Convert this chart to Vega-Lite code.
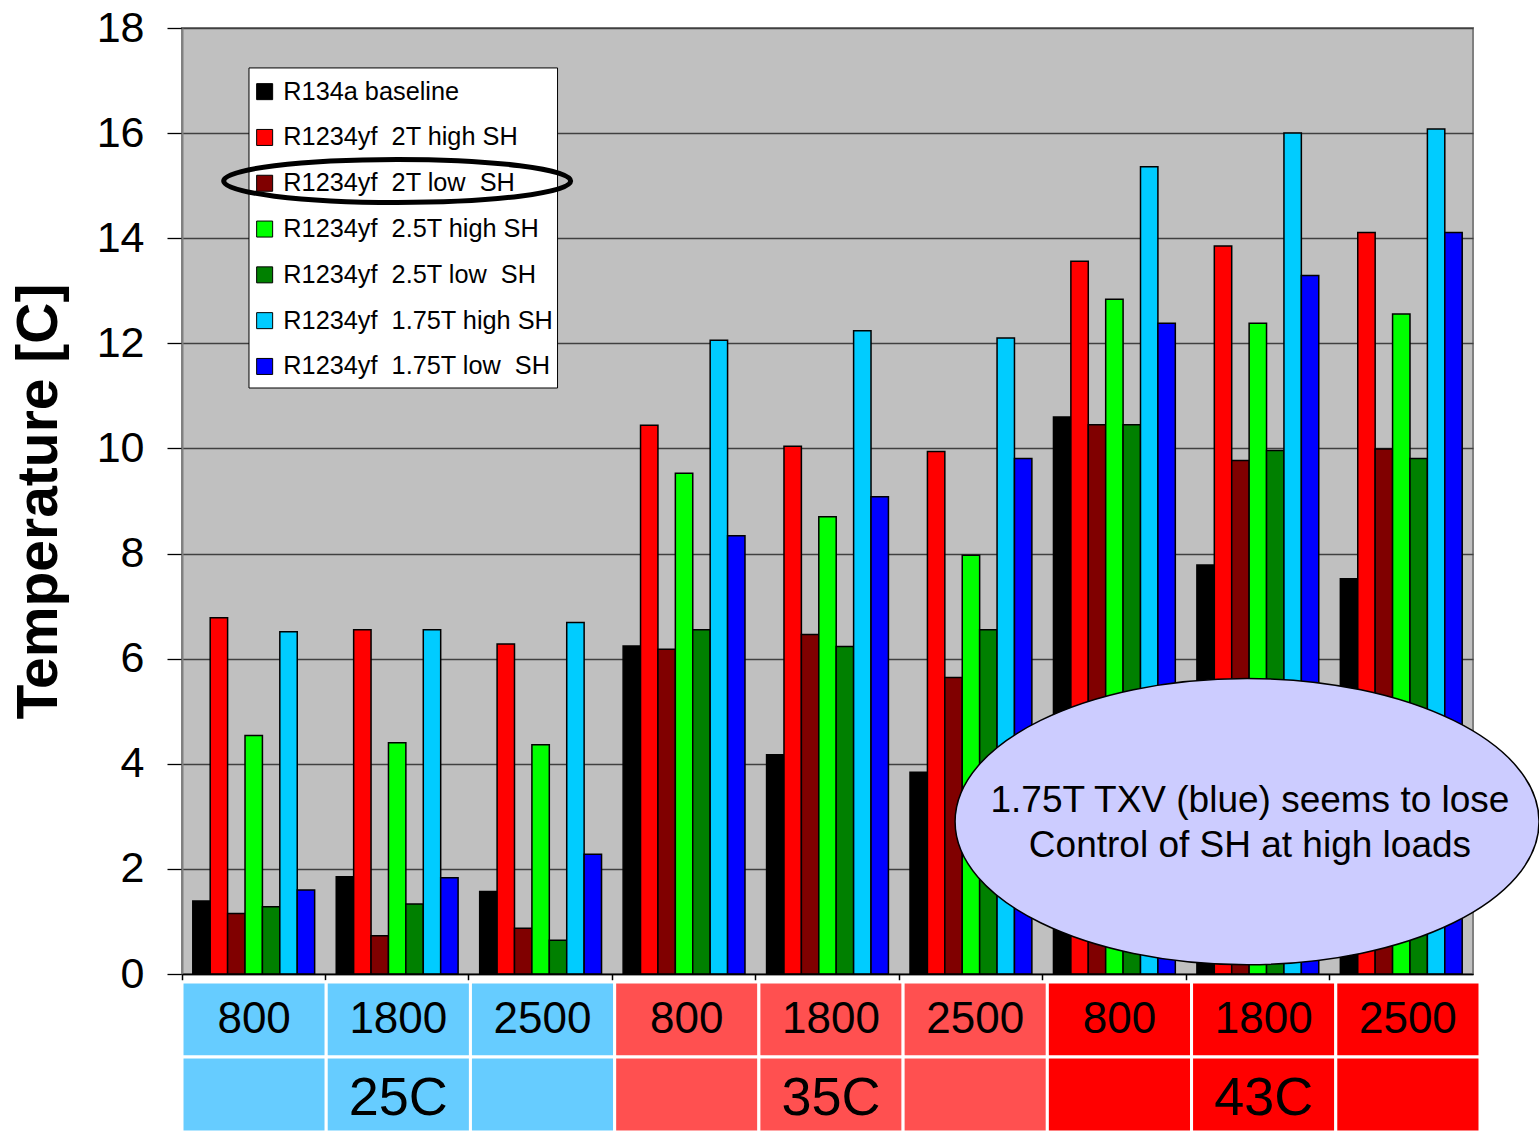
{
  "$schema": "https://vega.github.io/schema/vega-lite/v6.json",
  "padding": {"left": 9, "top": 6, "right": 0, "bottom": 0},
  "background": "white",
  "spacing": 8,
  "bounds": "flush",
  "config": {"font": "Liberation Sans", "legend": {"labelFont": "Liberation Sans"}, "axis": {"labelFont": "Liberation Sans", "titleFont": "Liberation Sans"}},
  "datasets": {
    "bars": [
      {"g": "25C 800", "series": "R134a baseline", "value": 1.39},
      {"g": "25C 800", "series": "R1234yf\u00a0 2T high SH", "value": 6.78},
      {"g": "25C 800", "series": "R1234yf\u00a0 2T low\u00a0 SH", "value": 1.15},
      {"g": "25C 800", "series": "R1234yf\u00a0 2.5T high SH", "value": 4.54},
      {"g": "25C 800", "series": "R1234yf\u00a0 2.5T low\u00a0 SH", "value": 1.28},
      {"g": "25C 800", "series": "R1234yf\u00a0 1.75T high SH", "value": 6.51},
      {"g": "25C 800", "series": "R1234yf\u00a0 1.75T low\u00a0 SH", "value": 1.60},
      {"g": "25C 1800", "series": "R134a baseline", "value": 1.85},
      {"g": "25C 1800", "series": "R1234yf\u00a0 2T high SH", "value": 6.55},
      {"g": "25C 1800", "series": "R1234yf\u00a0 2T low\u00a0 SH", "value": 0.73},
      {"g": "25C 1800", "series": "R1234yf\u00a0 2.5T high SH", "value": 4.40},
      {"g": "25C 1800", "series": "R1234yf\u00a0 2.5T low\u00a0 SH", "value": 1.33},
      {"g": "25C 1800", "series": "R1234yf\u00a0 1.75T high SH", "value": 6.55},
      {"g": "25C 1800", "series": "R1234yf\u00a0 1.75T low\u00a0 SH", "value": 1.83},
      {"g": "25C 2500", "series": "R134a baseline", "value": 1.57},
      {"g": "25C 2500", "series": "R1234yf\u00a0 2T high SH", "value": 6.28},
      {"g": "25C 2500", "series": "R1234yf\u00a0 2T low\u00a0 SH", "value": 0.87},
      {"g": "25C 2500", "series": "R1234yf\u00a0 2.5T high SH", "value": 4.36},
      {"g": "25C 2500", "series": "R1234yf\u00a0 2.5T low\u00a0 SH", "value": 0.64},
      {"g": "25C 2500", "series": "R1234yf\u00a0 1.75T high SH", "value": 6.69},
      {"g": "25C 2500", "series": "R1234yf\u00a0 1.75T low\u00a0 SH", "value": 2.28},
      {"g": "35C 800", "series": "R134a baseline", "value": 6.24},
      {"g": "35C 800", "series": "R1234yf\u00a0 2T high SH", "value": 10.44},
      {"g": "35C 800", "series": "R1234yf\u00a0 2T low\u00a0 SH", "value": 6.18},
      {"g": "35C 800", "series": "R1234yf\u00a0 2.5T high SH", "value": 9.53},
      {"g": "35C 800", "series": "R1234yf\u00a0 2.5T low\u00a0 SH", "value": 6.55},
      {"g": "35C 800", "series": "R1234yf\u00a0 1.75T high SH", "value": 12.06},
      {"g": "35C 800", "series": "R1234yf\u00a0 1.75T low\u00a0 SH", "value": 8.34},
      {"g": "35C 1800", "series": "R134a baseline", "value": 4.17},
      {"g": "35C 1800", "series": "R1234yf\u00a0 2T high SH", "value": 10.04},
      {"g": "35C 1800", "series": "R1234yf\u00a0 2T low\u00a0 SH", "value": 6.46},
      {"g": "35C 1800", "series": "R1234yf\u00a0 2.5T high SH", "value": 8.70},
      {"g": "35C 1800", "series": "R1234yf\u00a0 2.5T low\u00a0 SH", "value": 6.23},
      {"g": "35C 1800", "series": "R1234yf\u00a0 1.75T high SH", "value": 12.24},
      {"g": "35C 1800", "series": "R1234yf\u00a0 1.75T low\u00a0 SH", "value": 9.08},
      {"g": "35C 2500", "series": "R134a baseline", "value": 3.84},
      {"g": "35C 2500", "series": "R1234yf\u00a0 2T high SH", "value": 9.94},
      {"g": "35C 2500", "series": "R1234yf\u00a0 2T low\u00a0 SH", "value": 5.64},
      {"g": "35C 2500", "series": "R1234yf\u00a0 2.5T high SH", "value": 7.97},
      {"g": "35C 2500", "series": "R1234yf\u00a0 2.5T low\u00a0 SH", "value": 6.55},
      {"g": "35C 2500", "series": "R1234yf\u00a0 1.75T high SH", "value": 12.10},
      {"g": "35C 2500", "series": "R1234yf\u00a0 1.75T low\u00a0 SH", "value": 9.81},
      {"g": "43C 800", "series": "R134a baseline", "value": 10.60},
      {"g": "43C 800", "series": "R1234yf\u00a0 2T high SH", "value": 13.56},
      {"g": "43C 800", "series": "R1234yf\u00a0 2T low\u00a0 SH", "value": 10.45},
      {"g": "43C 800", "series": "R1234yf\u00a0 2.5T high SH", "value": 12.84},
      {"g": "43C 800", "series": "R1234yf\u00a0 2.5T low\u00a0 SH", "value": 10.45},
      {"g": "43C 800", "series": "R1234yf\u00a0 1.75T high SH", "value": 15.36},
      {"g": "43C 800", "series": "R1234yf\u00a0 1.75T low\u00a0 SH", "value": 12.38},
      {"g": "43C 1800", "series": "R134a baseline", "value": 7.78},
      {"g": "43C 1800", "series": "R1234yf\u00a0 2T high SH", "value": 13.85},
      {"g": "43C 1800", "series": "R1234yf\u00a0 2T low\u00a0 SH", "value": 9.77},
      {"g": "43C 1800", "series": "R1234yf\u00a0 2.5T high SH", "value": 12.38},
      {"g": "43C 1800", "series": "R1234yf\u00a0 2.5T low\u00a0 SH", "value": 9.96},
      {"g": "43C 1800", "series": "R1234yf\u00a0 1.75T high SH", "value": 16.00},
      {"g": "43C 1800", "series": "R1234yf\u00a0 1.75T low\u00a0 SH", "value": 13.29},
      {"g": "43C 2500", "series": "R134a baseline", "value": 7.52},
      {"g": "43C 2500", "series": "R1234yf\u00a0 2T high SH", "value": 14.11},
      {"g": "43C 2500", "series": "R1234yf\u00a0 2T low\u00a0 SH", "value": 9.99},
      {"g": "43C 2500", "series": "R1234yf\u00a0 2.5T high SH", "value": 12.56},
      {"g": "43C 2500", "series": "R1234yf\u00a0 2.5T low\u00a0 SH", "value": 9.81},
      {"g": "43C 2500", "series": "R1234yf\u00a0 1.75T high SH", "value": 16.08},
      {"g": "43C 2500", "series": "R1234yf\u00a0 1.75T low\u00a0 SH", "value": 14.11}
    ],
    "cells": [
      {"g": "25C 800", "temp": "25C", "row": "load", "label": "800"},
      {"g": "25C 1800", "temp": "25C", "row": "load", "label": "1800"},
      {"g": "25C 2500", "temp": "25C", "row": "load", "label": "2500"},
      {"g": "35C 800", "temp": "35C", "row": "load", "label": "800"},
      {"g": "35C 1800", "temp": "35C", "row": "load", "label": "1800"},
      {"g": "35C 2500", "temp": "35C", "row": "load", "label": "2500"},
      {"g": "43C 800", "temp": "43C", "row": "load", "label": "800"},
      {"g": "43C 1800", "temp": "43C", "row": "load", "label": "1800"},
      {"g": "43C 2500", "temp": "43C", "row": "load", "label": "2500"},
      {"g": "25C 800", "temp": "25C", "row": "temp", "label": ""},
      {"g": "25C 1800", "temp": "25C", "row": "temp", "label": "25C"},
      {"g": "25C 2500", "temp": "25C", "row": "temp", "label": ""},
      {"g": "35C 800", "temp": "35C", "row": "temp", "label": ""},
      {"g": "35C 1800", "temp": "35C", "row": "temp", "label": "35C"},
      {"g": "35C 2500", "temp": "35C", "row": "temp", "label": ""},
      {"g": "43C 800", "temp": "43C", "row": "temp", "label": ""},
      {"g": "43C 1800", "temp": "43C", "row": "temp", "label": "43C"},
      {"g": "43C 2500", "temp": "43C", "row": "temp", "label": ""}
    ]
  },
  "resolve": {"scale": {"color": "independent", "x": "independent"}},
  "vconcat": [
    {
      "width": 1291,
      "height": 946,
      "view": {"fill": "#C0C0C0", "stroke": "#808080", "strokeWidth": 2},
      "layer": [
        {
          "data": {"values": [{}]},
          "mark": {"type": "rect", "fill": "white", "stroke": "black", "strokeWidth": 1},
          "encoding": {
            "x": {"datum": "25C 800", "type": "nominal", "bandPosition": 0.467, "title": null},
            "x2": {"datum": "25C 2500", "bandPosition": 0.618},
            "y": {"datum": 17.24, "type": "quantitative", "title": "Temperature [C]"},
            "y2": {"datum": 11.15}
          }
        },
        {
          "data": {"name": "bars"},
          "mark": {"type": "bar", "stroke": "black", "strokeWidth": 1.5},
          "encoding": {
            "x": {
              "field": "g", "type": "nominal", "title": null,
              "scale": {"domain": ["25C 800", "25C 1800", "25C 2500", "35C 800", "35C 1800", "35C 2500", "43C 800", "43C 1800", "43C 2500"], "paddingInner": 0, "paddingOuter": 0},
              "axis": {"labels": false, "ticks": true, "tickSize": 6, "tickColor": "black", "tickWidth": 1.5, "domainColor": "black", "domainWidth": 1.5, "bandPosition": 0, "grid": false}
            },
            "xOffset": {
              "field": "series", "type": "nominal",
              "scale": {"domain": ["R134a baseline", "R1234yf\u00a0 2T high SH", "R1234yf\u00a0 2T low\u00a0 SH", "R1234yf\u00a0 2.5T high SH", "R1234yf\u00a0 2.5T low\u00a0 SH", "R1234yf\u00a0 1.75T high SH", "R1234yf\u00a0 1.75T low\u00a0 SH"], "paddingOuter": 0.62, "paddingInner": 0}
            },
            "y": {
              "field": "value", "type": "quantitative", "title": "Temperature [C]",
              "scale": {"domain": [0, 18], "nice": false},
              "axis": {"values": [0, 2, 4, 6, 8, 10, 12, 14, 16, 18], "grid": true, "gridColor": "#404040", "gridWidth": 1.3, "domainColor": "#808080", "domainWidth": 2, "tickColor": "black", "tickSize": 15, "tickWidth": 1.3, "labelFontSize": 43, "labelColor": "black", "labelPadding": 23, "titleFontSize": 57, "titleFontWeight": "bold", "titleColor": "black", "titlePadding": 28}
            },
            "color": {
              "field": "series", "type": "nominal",
              "scale": {"domain": ["R134a baseline", "R1234yf\u00a0 2T high SH", "R1234yf\u00a0 2T low\u00a0 SH", "R1234yf\u00a0 2.5T high SH", "R1234yf\u00a0 2.5T low\u00a0 SH", "R1234yf\u00a0 1.75T high SH", "R1234yf\u00a0 1.75T low\u00a0 SH"], "range": ["#000000", "#FF0000", "#800000", "#00FF00", "#008000", "#00CCFF", "#0000FF"]},
              "legend": {"orient": "none", "legendX": 61, "legendY": 42, "title": null, "padding": 9, "symbolType": "square", "symbolSize": 256, "symbolStrokeColor": "black", "symbolStrokeWidth": 1, "symbolOpacity": 1, "labelFontSize": 25.3, "labelColor": "black", "labelOffset": 6, "rowPadding": 19.8, "labelLimit": 400}
            }
          }
        },
        {
          "data": {"values": [{}]},
          "mark": {"type": "point", "shape": "M-1,0A1,0.49,0,1,0,1,0A1,0.49,0,1,0,-1,0Z", "size": 341056, "filled": true, "fill": "#CCCCFF", "stroke": "black", "strokeWidth": 1.5, "opacity": 1},
          "encoding": {
            "x": {"datum": "43C 1800", "type": "nominal", "bandPosition": 0.425, "title": null},
            "y": {"datum": 2.9, "type": "quantitative", "title": "Temperature [C]"}
          }
        },
        {
          "data": {"values": [{}]},
          "mark": {"type": "text", "fontSize": 37, "lineHeight": 45, "align": "center", "baseline": "middle", "dy": -21, "color": "black", "font": "Liberation Sans"},
          "encoding": {
            "x": {"datum": "43C 1800", "type": "nominal", "bandPosition": 0.445, "title": null},
            "y": {"datum": 2.9, "type": "quantitative", "title": "Temperature [C]"},
            "text": {"value": ["1.75T TXV (blue) seems to lose", "Control of SH at high loads"]}
          }
        },
        {
          "data": {"values": [{}]},
          "mark": {"type": "point", "shape": "M-1,0A1,0.124,0,1,0,1,0A1,0.124,0,1,0,-1,0Z", "size": 120409, "filled": false, "stroke": "black", "strokeWidth": 5, "opacity": 1},
          "encoding": {
            "x": {"datum": "25C 1800", "type": "nominal", "bandPosition": 0.5, "title": null},
            "y": {"datum": 15.09, "type": "quantitative", "title": "Temperature [C]"}
          }
        }
      ]
    },
    {
      "width": 1298,
      "height": 150,
      "view": {"stroke": null},
      "data": {"name": "cells"},
      "encoding": {
        "x": {"field": "g", "type": "nominal", "sort": null, "axis": null, "scale": {"paddingInner": 0, "paddingOuter": 0}},
        "y": {"field": "row", "type": "nominal", "sort": null, "axis": null, "scale": {"paddingInner": 0, "paddingOuter": 0}}
      },
      "layer": [
        {
          "mark": {"type": "rect", "stroke": "white", "strokeWidth": 3},
          "encoding": {
            "color": {"field": "temp", "type": "nominal", "scale": {"domain": ["25C", "35C", "43C"], "range": ["#66CCFF", "#FF5050", "#FF0000"]}, "legend": null}
          }
        },
        {
          "transform": [{"filter": "datum.row === 'load'"}],
          "mark": {"type": "text", "color": "black", "font": "Liberation Sans", "align": "center", "baseline": "middle", "fontSize": 44},
          "encoding": {"text": {"field": "label"}}
        },
        {
          "transform": [{"filter": "datum.row === 'temp'"}],
          "mark": {"type": "text", "color": "black", "font": "Liberation Sans", "align": "center", "baseline": "middle", "fontSize": 54, "dy": 4},
          "encoding": {"text": {"field": "label"}}
        }
      ]
    }
  ]
}
